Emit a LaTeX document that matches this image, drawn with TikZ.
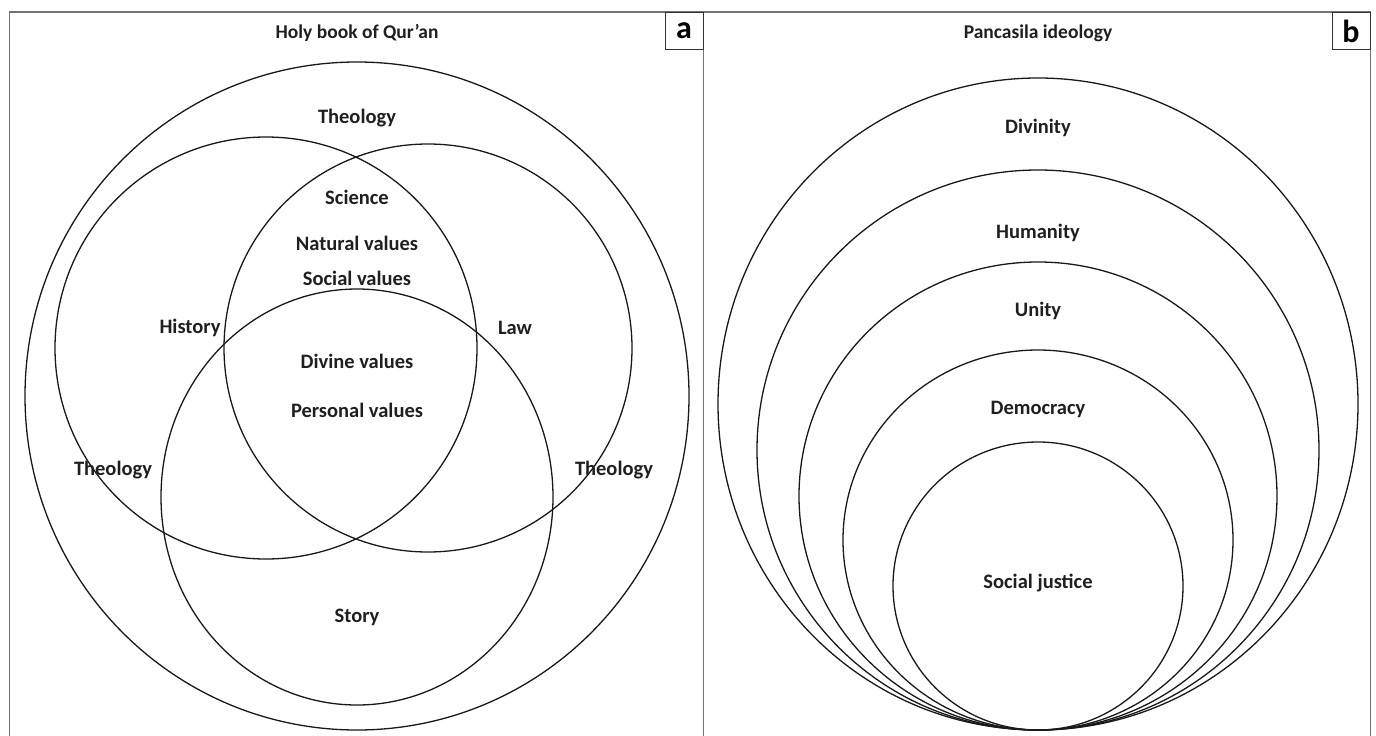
\documentclass[tikz,border=0pt]{standalone}
\usepackage{fontspec}
\setmainfont{Carlito}
\begin{document}
\begin{tikzpicture}[x=1pt,y=-1pt,
  frameline/.style={draw=black!55,line width=1.3pt},
  tagbox/.style={draw=black!80,line width=1pt,minimum width=38pt,minimum height=37pt,inner sep=0pt,anchor=north east,font=\fontsize{32}{34}\selectfont\bfseries},
  ring/.style={draw=black!90,line width=1.3pt},
  lbl/.style={font=\fontsize{20.5}{23}\selectfont\bfseries,text=black!88,inner sep=1pt},
  ttl/.style={font=\fontsize{19.5}{22}\selectfont\bfseries,text=black!88,inner sep=1pt}]
\useasboundingbox (0,0) rectangle (1376,736);
% panel frames (open at the bottom)
\draw[frameline] (9.5,736) -- (9.5,12) -- (1370.5,12) -- (1370.5,736);
\draw[frameline] (703.5,12) -- (703.5,736);
\node[tagbox] (taga) at (703.5,12) {a};
\node[tagbox] (tagb) at (1370.5,12) {b};

% ---- panel a: Qur'an ----
\node[ttl] (titlea) at (357,33) {Holy book of Qur’an};
\draw[ring] (357,396) ellipse [x radius=332, y radius=334];
\draw[ring] (266,348) circle [radius=211];
\draw[ring] (428,348) circle [radius=204];
\draw[ring] (357,497) ellipse [x radius=196, y radius=208];
\node[lbl] (theotop) at (357,118) {Theology};
\node[lbl] (science) at (357,197) {Science};
\node[lbl] (natural) at (357,243) {Natural values};
\node[lbl] (social) at (357,278) {Social values};
\node[lbl] (history) at (190,328) {History};
\node[lbl] (law) at (515,328) {Law};
\node[lbl] (divine) at (357,361) {Divine values};
\node[lbl] (personal) at (357,410) {Personal values};
\node[lbl] (theoleft) at (113,470) {Theology};
\node[lbl] (theoright) at (614,470) {Theology};
\node[lbl] (story) at (357,617) {Story};

% ---- panel b: Pancasila ----
\node[ttl] (titleb) at (1038,33) {Pancasila ideology};
\draw[ring] (1038,404) ellipse [x radius=320, y radius=326];
\draw[ring] (1038,450) ellipse [x radius=281, y radius=280];
\draw[ring] (1038,496) ellipse [x radius=239, y radius=234];
\draw[ring] (1038,540) ellipse [x radius=195, y radius=190];
\draw[ring] (1038,586) ellipse [x radius=145, y radius=144];
\node[lbl] (divinity) at (1038,128) {Divinity};
\node[lbl] (humanity) at (1038,233) {Humanity};
\node[lbl] (unity) at (1038,311) {Unity};
\node[lbl] (democracy) at (1038,409) {Democracy};
\node[lbl] (justice) at (1038,583) {Social justice};
\end{tikzpicture}
\end{document}
